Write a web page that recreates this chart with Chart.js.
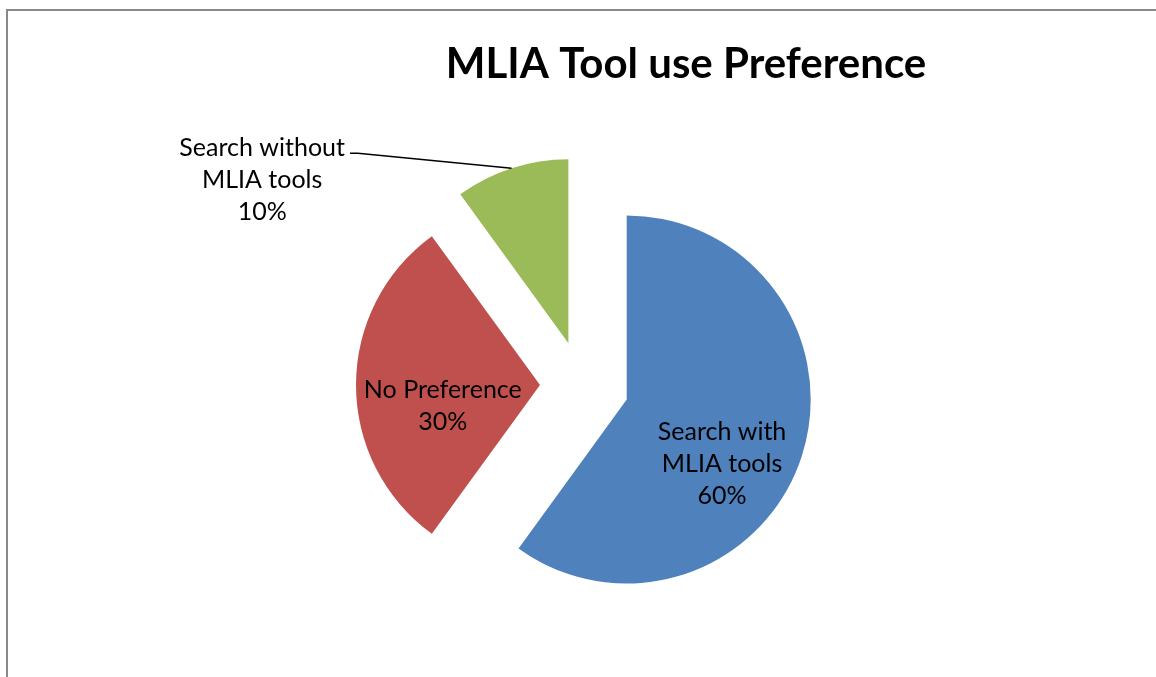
<!DOCTYPE html>
<html>
<head>
<meta charset="utf-8">
<title>MLIA Tool use Preference</title>
<script src="https://cdn.jsdelivr.net/npm/chart.js@4.4.1/dist/chart.umd.min.js"></script>
<style>
  html, body { margin: 0; padding: 0; background: #fff; overflow: hidden; }
  #wrap { position: relative; width: 1156px; height: 677px; overflow: hidden; }
  #frame { position: absolute; left: 6px; top: 9px; width: 1170px; height: 690px; border: 2px solid #898989; }
  #chart { position: absolute; left: 0; top: 0; }
</style>
</head>
<body>
<div id="wrap">
  <div id="frame"></div>
  <canvas id="chart" width="1156" height="677"></canvas>
</div>
<script>
// --- Data ---
const chartTitle = 'MLIA Tool use Preference';
const categories = ['Search with MLIA tools', 'No Preference', 'Search without MLIA tools'];
const shares = [60, 30, 10];
const sliceColors = ['#4F81BD', '#C0504D', '#9BBB59'];

// how far each slice is pulled out of the pie (px)
const explodeDistances = [47, 42, 44];

// --- Helpers ---
function wrapText(ctx, text, maxWidth) {
    const words = text.split(' ');
    const lines = [];
    let line = '';
    words.forEach(word => {
        const test = line ? line + ' ' + word : word;
        if (line && ctx.measureText(test).width > maxWidth) {
            lines.push(line);
            line = word;
        } else {
            line = test;
        }
    });
    if (line) lines.push(line);
    return lines;
}

// Draws every slice pulled out along its own mid angle
const explodePlugin = {
    id: 'explode',
    beforeDatasetDraw(chart, args, opts) {
        const ctx = chart.ctx;
        args.meta.data.forEach((arc, i) => {
            const mid = (arc.startAngle + arc.endAngle) / 2;
            const d = opts.distances[i] || 0;
            ctx.save();
            ctx.translate(Math.cos(mid) * d, Math.sin(mid) * d);
            arc.draw(ctx);
            ctx.restore();
        });
        return false;
    }
};

// Category name + percentage, like Excel's data labels
const sliceLabelPlugin = {
    id: 'sliceLabels',
    afterDatasetsDraw(chart, args, opts) {
        const ctx = chart.ctx;
        const meta = chart.getDatasetMeta(0);
        const data = chart.data.datasets[0].data;
        const total = data.reduce((a, b) => a + b, 0);
        const pulled = chart.options.plugins.explode.distances;

        ctx.save();
        ctx.font = opts.font;
        ctx.fillStyle = opts.color;
        ctx.textAlign = 'center';
        ctx.textBaseline = 'middle';

        meta.data.forEach((arc, i) => {
            const mid = (arc.startAngle + arc.endAngle) / 2;
            const d = pulled[i] || 0;
            const cx = arc.x + Math.cos(mid) * d;
            const cy = arc.y + Math.sin(mid) * d;
            const r = arc.outerRadius;
            const place = opts.placement[i];
            const a = mid + place.angle * Math.PI / 180;
            const lx = cx + Math.cos(a) * place.dist * r;
            const ly = cy + Math.sin(a) * place.dist * r;

            const lines = wrapText(ctx, chart.data.labels[i], opts.maxWidth);
            lines.push(Math.round(data[i] / total * 100) + '%');
            const top = ly - (lines.length - 1) * opts.lineHeight / 2;
            lines.forEach((t, k) => ctx.fillText(t, lx, top + k * opts.lineHeight));

            if (place.leader) {
                const w = ctx.measureText(lines[0]).width;
                const sx = lx + w / 2 + 5;
                const sy = top + 5;
                ctx.beginPath();
                ctx.lineWidth = 1.5;
                ctx.strokeStyle = opts.color;
                ctx.moveTo(sx, sy);
                ctx.lineTo(sx + 8, sy);
                ctx.lineTo(cx + Math.cos(mid) * r, cy + Math.sin(mid) * r);
                ctx.stroke();
            }
        });
        ctx.restore();
    }
};

const fixedTitlePlugin = {
    id: 'fixedTitle',
    afterDraw(chart, args, opts) {
        const ctx = chart.ctx;
        ctx.save();
        ctx.font = opts.font;
        ctx.fillStyle = '#000';
        ctx.textAlign = 'center';
        ctx.textBaseline = 'alphabetic';
        ctx.fillText(opts.text, opts.x, opts.y);
        ctx.restore();
    }
};

// --- Chart ---
const canvas = document.getElementById('chart');
new Chart(canvas.getContext('2d'), {
    type: 'pie',
    data: {
        labels: categories,
        datasets: [{
            data: shares,
            backgroundColor: sliceColors,
            borderWidth: 0
        }]
    },
    options: {
        responsive: false,
        animation: false,
        events: [],
        radius: 184,
        layout: {
            padding: { left: 8, right: 0, top: 100, bottom: 7 }
        },
        plugins: {
            legend: { display: false },
            tooltip: { enabled: false },
            title: { display: false },
            explode: { distances: explodeDistances },
            sliceLabels: {
                font: '25px Lato',
                color: '#000',
                lineHeight: 32,
                maxWidth: 180,
                placement: [
                    { angle: 16, dist: 0.625 },
                    { angle: -12, dist: 0.54 },
                    { angle: -44, dist: 1.885, leader: true }
                ]
            },
            fixedTitle: {
                text: chartTitle,
                font: 'bold 42px Lato',
                x: 686,
                y: 78
            }
        }
    },
    plugins: [explodePlugin, sliceLabelPlugin, fixedTitlePlugin]
});
</script>
</body>
</html>
